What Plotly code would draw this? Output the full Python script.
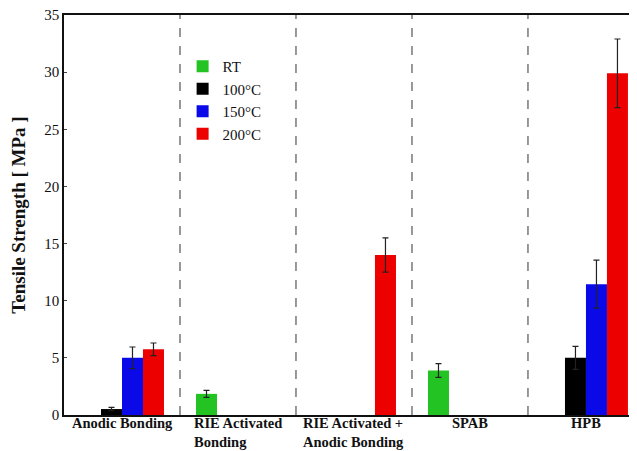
import plotly.graph_objects as go

categories = ["Anodic Bonding", "RIE Activated<br>Bonding", "RIE Activated +<br>Anodic Bonding", "SPAB", "HPB"]
series_names = ["RT", "100°C", "150°C", "200°C"]
colors = ["#22c322", "#000000", "#0a0ae8", "#ec0000"]

rt_vals = [None, 1.85, None, 3.9, None]
rt_err = [None, 0.3, None, 0.6, None]
t100_vals = [0.52, None, None, None, 5.0]
t100_err = [0.15, None, None, None, 1.0]
t150_vals = [5.0, None, None, None, 11.45]
t150_err = [0.95, None, None, None, 2.1]
t200_vals = [5.75, None, 14.0, None, 29.9]
t200_err = [0.55, None, 1.5, None, 3.0]

y_ticks = [0, 5, 10, 15, 20, 25, 30, 35]

SERIF = "Liberation Serif, Times New Roman, Times, serif"

xs = list(range(len(categories)))
values = [rt_vals, t100_vals, t150_vals, t200_vals]
errors = [rt_err, t100_err, t150_err, t200_err]

fig = go.Figure()
for name, col, v, e in zip(series_names, colors, values, errors):
    fig.add_trace(go.Bar(
        x=xs, y=v, name=name, marker=dict(color=col, line=dict(width=0)),
        error_y=dict(type="data", array=[x if x is not None else 0 for x in e],
                     visible=True, color="#222222", thickness=1.2, width=3),
    ))

shapes = []
for b in [0.5, 1.5, 2.5, 3.5]:
    shapes.append(dict(type="line", xref="x", yref="y", x0=b, x1=b, y0=0, y1=35,
                       line=dict(color="#555555", width=1.2, dash="dash")))

annotations = []
for i, c in enumerate(categories):
    annotations.append(dict(x=i, xref="x", y=0, yref="paper", yanchor="top",
                            xanchor="center", text="<b>" + c + "</b>", showarrow=False,
                            align="left", yshift=2,
                            font=dict(family=SERIF, size=14.5, color="#111111")))

fig.update_layout(
    width=629, height=443,
    margin=dict(l=56, r=0, t=7, b=36),
    paper_bgcolor="white", plot_bgcolor="white",
    barmode="group", bargap=0.276, bargroupgap=0,
    font=dict(family=SERIF, size=14, color="#111111"),
    shapes=shapes, annotations=annotations,
    legend=dict(x=0.207, y=0.9125, xanchor="left", yanchor="top",
                bgcolor="rgba(0,0,0,0)", font=dict(family=SERIF, size=15), itemwidth=30,
                tracegroupgap=0),
    xaxis=dict(range=[-0.5, 4.44], showticklabels=False, ticks="",
               showline=True, linecolor="#111111", linewidth=1.5, mirror=True,
               showgrid=False, zeroline=False),
    yaxis=dict(range=[0, 35], tickvals=y_ticks, ticks="inside", ticklen=3,
               showline=True, linecolor="#111111", linewidth=1.5,
               showgrid=False, zeroline=False, ticklabeloverflow="allow",
               tickfont=dict(family=SERIF, size=15),
               title=dict(text="<b>Tensile Strength [ MPa ]</b>",
                          font=dict(family=SERIF, size=19), standoff=14)),
)

fig.write_html("out.html")
